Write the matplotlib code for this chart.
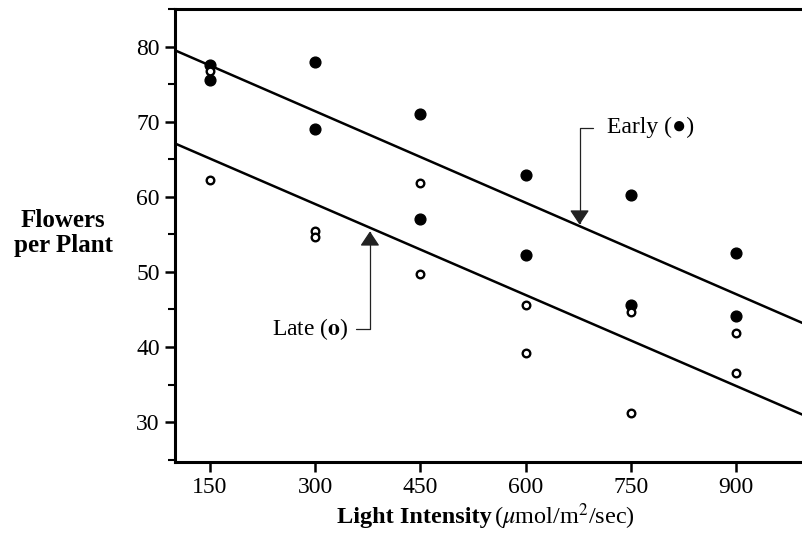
import matplotlib.pyplot as plt
from matplotlib.ticker import MultipleLocator

plt.rcParams['font.family'] = ['Liberation Serif', 'DejaVu Serif']
plt.rcParams['mathtext.fontset'] = 'stix'

# Data
light = [150, 300, 450, 600, 750, 900]
early_x = [150, 150, 300, 300, 450, 450, 600, 600, 750, 750, 900, 900]
early_y = [77.6, 75.6, 78.0, 69.0, 71.0, 57.0, 62.9, 52.3, 60.2, 45.6, 52.5, 44.1]
late_x = [150, 150, 300, 300, 450, 450, 600, 600, 750, 750, 900, 900]
late_y = [76.7, 62.2, 55.4, 54.6, 61.9, 49.7, 45.6, 39.2, 44.7, 31.2, 41.9, 36.6]

# fitted lines (values at x = 100 and x = 1000)
fit_x = [100, 1000]
early_fit = [79.5, 43.0]
late_fit = [67.1, 30.8]

fig = plt.figure(figsize=(8.02, 5.34), dpi=100)
ax = fig.add_axes([175/802, 72/534, 631/802, 453/534])

ax.plot(fit_x, early_fit, color='black', lw=1.8, zorder=2)
ax.plot(fit_x, late_fit, color='black', lw=1.8, zorder=2)

ax.scatter(early_x, early_y, s=60, color='black', zorder=3)
ax.scatter(late_x, late_y, s=30, facecolor='white', edgecolor='black',
           linewidth=1.7, zorder=4)

# Labels with elbow arrows
def arrow(gap):
    return dict(arrowstyle='-|>,head_length=0.45,head_width=0.3',
                color='#222222', lw=0.9, mutation_scale=20, shrinkA=gap,
                shrinkB=0, connectionstyle='angle,angleA=0,angleB=90,rad=0')

ax.annotate('Early (\u25cf)', xy=(677, 56.3), xytext=(716, 69.2),
            fontsize=17, va='center', ha='left', arrowprops=arrow(8),
            family=['Liberation Serif', 'DejaVu Sans'])
ax.annotate('Late ($\\mathbf{o}$)', xy=(378, 55.4), xytext=(348, 42.4),
            fontsize=17, va='center', ha='right', arrowprops=arrow(3))

ax.set_xlim(100, 1000)
ax.set_ylim(24.7, 85)
ax.set_xticks(light)
ax.yaxis.set_major_locator(MultipleLocator(10))
ax.yaxis.set_minor_locator(MultipleLocator(5))
ax.set_yticks([30, 40, 50, 60, 70, 80])
ax.tick_params(axis='both', which='major', direction='out', length=7,
               width=1.8, labelsize=17, pad=4)
ax.tick_params(axis='y', which='minor', direction='out', length=5, width=1.5)

for side in ['left', 'bottom', 'top']:
    ax.spines[side].set_linewidth(2.2)
ax.spines['right'].set_visible(False)

fig.text(492/802, 1 - 517/534, 'Light Intensity', fontsize=17.5,
         fontweight='bold', ha='right', va='center')
fig.text(494/802, 1 - 517/534, r'($\mu$mol/m$^2$/sec)', fontsize=17.5,
         ha='left', va='center')
fig.text(63/802, 1 - 233/534, 'Flowers\nper Plant', fontsize=18,
         fontweight='bold', ha='center', va='center', linespacing=1.1)

fig.savefig('out.png', dpi=100)
